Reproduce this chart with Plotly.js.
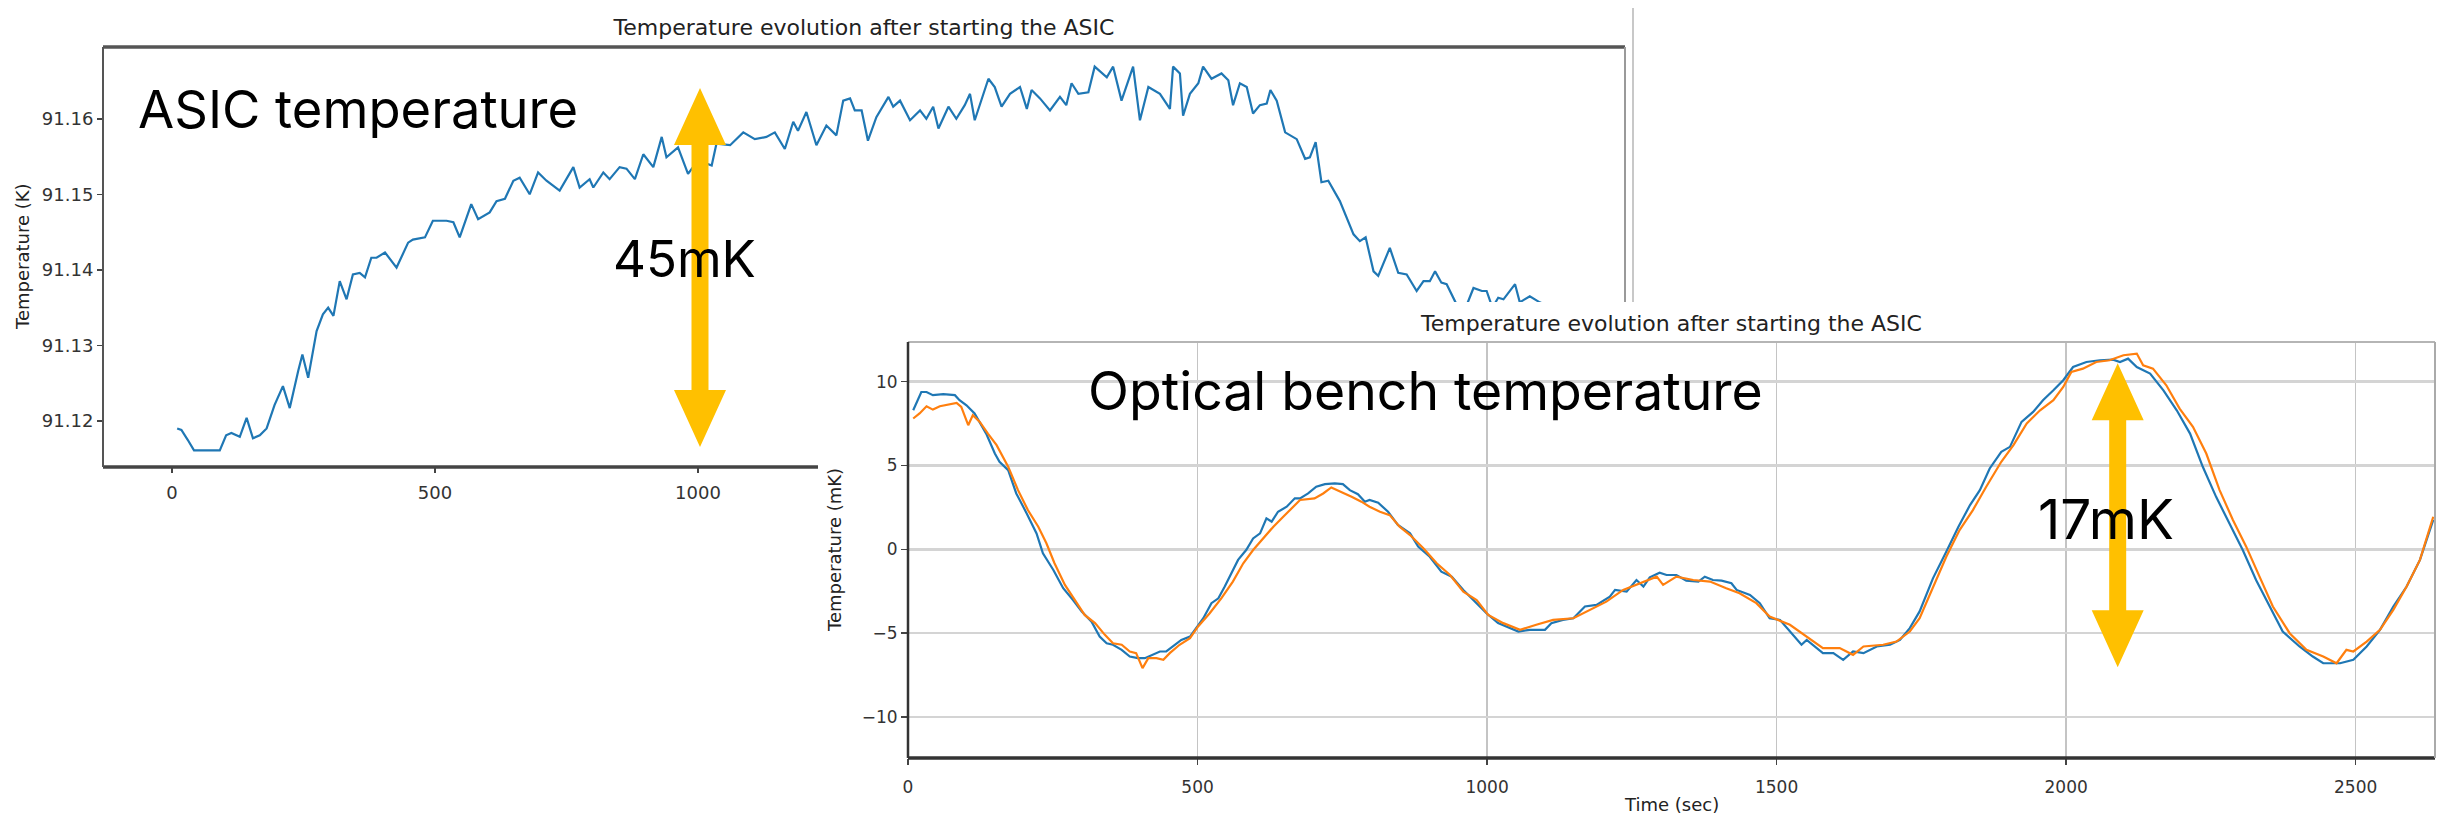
<!DOCTYPE html>
<html>
<head>
<meta charset="utf-8">
<script src="https://cdn.plot.ly/plotly-3.0.1.min.js"></script>
<style>
  html, body { margin: 0; padding: 0; background: #ffffff; }
  #wrap { position: relative; width: 2448px; height: 818px; overflow: hidden; background: #fff; }
  #asic { position: absolute; left: 0; top: 0; width: 2448px; height: 818px; }
  #bench { position: absolute; left: 818px; top: 302px; width: 1630px; height: 516px; }
</style>
</head>
<body>
<div id="wrap"><div id="asic"></div><div id="bench"></div></div>
<script>
// ---------------- DATA ----------------
const chartTitle = "Temperature evolution after starting the ASIC";

// ASIC temperature (K) vs time (s)
const asicTime = [10, 18, 30, 42, 60, 80, 91, 103, 113, 129, 142, 154, 167, 180, 195, 211, 224, 240, 248, 259, 275, 287, 297, 307, 319, 332, 344, 357, 367, 379, 389, 405, 427, 449, 458, 481, 496, 522, 535, 547, 569, 582, 604, 617, 633, 649, 661, 680, 696, 712, 737, 763, 775, 794, 801, 820, 832, 851, 864, 880, 896, 915, 931, 940, 962,
  981, 1000, 1026, 1035, 1061, 1086, 1108, 1130, 1146, 1165, 1181, 1190, 1206, 1225, 1244, 1263, 1276, 1289, 1298, 1311, 1323, 1339, 1362, 1371, 1384, 1403, 1422, 1434, 1447, 1457, 1476, 1491, 1507, 1517, 1526, 1552, 1564, 1577, 1593, 1612, 1625, 1634, 1650, 1669, 1688, 1700, 1710, 1723, 1742, 1754, 1777, 1789, 1805, 1827, 1840, 1856, 1878, 1897, 1903, 1916, 1922, 1935, 1951,
  1960, 1976, 1995, 2008, 2017, 2030, 2043, 2055, 2068, 2081, 2088, 2100, 2116, 2138, 2154, 2163, 2174, 2185, 2198, 2220, 2246, 2258, 2269, 2284, 2293, 2315, 2331, 2347, 2366, 2379, 2391, 2401, 2413, 2423, 2442, 2458, 2474, 2490, 2499, 2510, 2521, 2531, 2553, 2562, 2581, 2600, 2615, 2630];
const asicTemp = [91.1190, 91.1188, 91.1175, 91.1161, 91.1161, 91.1161, 91.1161, 91.1181, 91.1184, 91.1179, 91.1204, 91.1177, 91.1181, 91.1190, 91.1221, 91.1246, 91.1217, 91.1266, 91.1288, 91.1257, 91.1319, 91.1341, 91.1350, 91.1339, 91.1385, 91.1361, 91.1394, 91.1396, 91.1390, 91.1416, 91.1416, 91.1423, 91.1403, 91.1436, 91.1440, 91.1443, 91.1465, 91.1465, 91.1463, 91.1443, 91.1487, 91.1467, 91.1476, 91.1491, 91.1494, 91.1518, 91.1522, 91.1500, 91.1529, 91.1518, 91.1505, 91.1536, 91.1509, 91.1520, 91.1509, 91.1529, 91.1520, 91.1536, 91.1534, 91.1520, 91.1553, 91.1536, 91.1576, 91.1549, 91.1562,
  91.1527, 91.1545, 91.1538, 91.1567, 91.1565, 91.1582, 91.1573, 91.1576, 91.1582, 91.1560, 91.1596, 91.1584, 91.1609, 91.1565, 91.1591, 91.1578, 91.1624, 91.1627, 91.1611, 91.1611, 91.1571, 91.1602, 91.1629, 91.1616, 91.1624, 91.1598, 91.1611, 91.1600, 91.1616, 91.1587, 91.1616, 91.1600, 91.1618, 91.1633, 91.1598, 91.1653, 91.1642, 91.1616, 91.1633, 91.1642, 91.1613, 91.1638, 91.1627, 91.1611, 91.1629, 91.1618, 91.1647, 91.1633, 91.1635, 91.1669, 91.1655, 91.1669, 91.1624, 91.1669, 91.1598, 91.1642, 91.1633, 91.1613, 91.1669, 91.1660, 91.1604, 91.1633, 91.1647,
  91.1669, 91.1653, 91.1660, 91.1651, 91.1618, 91.1647, 91.1642, 91.1607, 91.1618, 91.1620, 91.1638, 91.1624, 91.1582, 91.1573, 91.1547, 91.1549, 91.1569, 91.1516, 91.1518, 91.1491, 91.1447, 91.1438, 91.1443, 91.1398, 91.1392, 91.1429, 91.1396, 91.1394, 91.1372, 91.1385, 91.1385, 91.1398, 91.1383, 91.1381, 91.1354, 91.1348, 91.1376, 91.1372, 91.1372, 91.1350, 91.1363, 91.1361, 91.1381, 91.1357, 91.1365, 91.1357, 91.1352, 91.1356];

// Optical bench temperature (mK), blue series
const benchTimeBlue = [9, 17, 23, 32, 43, 61, 81, 89, 101, 115, 135, 150, 158, 173, 187, 205, 222, 233, 251, 268, 285, 300, 317, 331, 343, 354, 369, 383, 397, 409, 423, 435, 446, 458, 472, 487, 495, 510, 524, 536, 547, 559, 570, 584, 596, 608, 619, 628, 639, 654, 668, 677, 691, 705, 720, 737, 751, 763, 777, 789, 797, 812, 829, 846, 867, 881,
  901, 921, 939, 959, 979, 999, 1019, 1039, 1054, 1074, 1100, 1111, 1131, 1149, 1169, 1189, 1212, 1221, 1241, 1258, 1270, 1281, 1298, 1310, 1327, 1344, 1365, 1376, 1390, 1405, 1422, 1431, 1454, 1471, 1488, 1506, 1523, 1543, 1552, 1580, 1598, 1615, 1632, 1650, 1673, 1696, 1713, 1730, 1747,
  1770, 1793, 1814, 1834, 1851, 1868, 1888, 1903, 1923, 1943, 1960, 1978, 1995, 2012, 2035, 2058, 2081, 2093, 2107, 2122, 2145, 2168, 2191, 2214, 2236, 2259, 2282, 2305, 2328, 2351, 2374, 2403, 2426, 2444, 2473, 2496, 2519, 2542, 2565, 2588, 2611, 2634];
const benchTempBlue = [8.29, 8.89, 9.38, 9.38, 9.19, 9.25, 9.19, 8.89, 8.59, 8.10, 6.90, 5.71, 5.22, 4.72, 3.33, 2.14, 0.95, -0.24, -1.23, -2.32, -3.02, -3.71, -4.31, -5.20, -5.60, -5.69, -5.99, -6.39, -6.49, -6.49, -6.29, -6.09, -6.09, -5.79, -5.40, -5.20, -4.80, -4.11, -3.21, -2.92, -2.22, -1.43, -0.63, -0.04, 0.65, 0.95, 1.85, 1.65, 2.24, 2.54, 3.04, 3.04, 3.33, 3.73, 3.89, 3.93, 3.89, 3.53, 3.29, 2.84, 2.94, 2.78, 2.24, 1.45, 0.95, 0.16,
  -0.44, -1.33, -1.63, -2.42, -3.12, -3.81, -4.40, -4.70, -4.90, -4.80, -4.80, -4.40, -4.21, -4.11, -3.41, -3.31, -2.82, -2.42, -2.52, -1.83, -2.22, -1.67, -1.39, -1.53, -1.53, -1.87, -1.92, -1.63, -1.83, -1.87, -2.02, -2.42, -2.72, -3.21, -4.11, -4.21, -4.90, -5.69, -5.40, -6.19, -6.19, -6.59, -6.09, -6.19, -5.79, -5.69, -5.40, -4.70, -3.70,
  -1.73, -0.14, 1.35, 2.64, 3.53, 4.82, 5.81, 6.11, 7.60, 8.19, 8.89, 9.48, 10.08, 10.87, 11.17, 11.27, 11.31, 11.17, 11.37, 10.87, 10.48, 9.48, 8.29, 6.90, 4.92, 3.13, 1.55, -0.04, -1.83, -3.41, -4.90, -5.79, -6.39, -6.79, -6.79, -6.59, -5.79, -4.80, -3.41, -2.22, -0.63, 1.75];

// Optical bench temperature (mK), orange series
const benchTimeOrange = [9, 20, 32, 43, 55, 66, 84, 92, 104, 112, 124, 138, 153, 173, 190, 207, 225, 239, 253, 271, 288, 305, 323, 340, 354, 369, 383, 394, 405, 415, 429, 441, 452, 469, 487, 501, 521, 541, 561, 579, 596, 613, 631, 648, 662, 677, 702, 717, 731, 746, 766, 783, 797, 815, 832, 849, 867,
  890, 913, 936, 959, 982, 1002, 1028, 1057, 1085, 1114, 1149, 1177, 1206, 1235, 1264, 1293, 1304, 1327, 1356, 1385, 1413, 1436, 1465, 1488, 1523, 1552, 1580, 1609, 1632, 1650, 1684, 1707, 1730, 1747,
  1770, 1793, 1816, 1839, 1862, 1888, 1909, 1932, 1955, 1978, 1995, 2009, 2029, 2052, 2075, 2099, 2122, 2133, 2150, 2173, 2196, 2219, 2242, 2265, 2288, 2311, 2334, 2357, 2386, 2415, 2444, 2467, 2484, 2496, 2519, 2542, 2565, 2588, 2611, 2634];
const benchTempOrange = [7.80, 8.10, 8.53, 8.33, 8.53, 8.59, 8.73, 8.49, 7.40, 8.00, 7.60, 6.90, 6.21, 4.92, 3.53, 2.34, 1.35, 0.36, -0.83, -2.12, -3.02, -3.91, -4.40, -5.10, -5.60, -5.69, -6.09, -6.19, -7.08, -6.49, -6.49, -6.59, -6.19, -5.69, -5.30, -4.60, -3.81, -2.92, -1.92, -0.83, -0.04, 0.65, 1.35, 1.94, 2.44, 2.94, 3.04, 3.33, 3.69, 3.43, 3.13, 2.84, 2.54, 2.24, 2.04, 1.35, 0.85,
  0.06, -0.83, -1.53, -2.52, -3.02, -3.91, -4.40, -4.80, -4.50, -4.21, -4.11, -3.61, -3.12, -2.42, -2.02, -1.63, -2.12, -1.63, -1.83, -1.92, -2.32, -2.62, -3.21, -4.01, -4.50, -5.20, -5.89, -5.89, -6.29, -5.79, -5.69, -5.50, -4.90, -4.11,
  -2.22, -0.44, 1.15, 2.34, 3.73, 5.22, 6.21, 7.50, 8.29, 8.89, 9.68, 10.58, 10.77, 11.17, 11.27, 11.57, 11.67, 10.97, 10.77, 9.78, 8.39, 7.30, 5.71, 3.53, 1.75, 0.16, -1.63, -3.41, -5.00, -5.99, -6.39, -6.79, -5.99, -6.09, -5.50, -4.80, -3.61, -2.22, -0.63, 1.94];

const asicXTicks = [0, 500, 1000, 1500, 2000, 2500];
const asicYTicks = [91.12, 91.13, 91.14, 91.15, 91.16];
const benchXTicks = [0, 500, 1000, 1500, 2000, 2500];
const benchYTicks = [-10, -5, 0, 5, 10];

// ---------------- STYLE ----------------
const TICKFONT = {family: "DejaVu Sans", size: 18, color: "#333"};
const TITLEFONT = {family: "DejaVu Sans", size: 22, color: "#222"};
const LABELFONT = {family: "DejaVu Sans", size: 18, color: "#222"};
const BIGFAMILY = "Inter, 'Noto Sans', sans-serif";
const big = (s) => ({family: BIGFAMILY, size: s, color: "#000"});
const ARROW = "#FFC000";

function makeConv(W, H, m) {
  const w = W - m.l - m.r, h = H - m.t - m.b;
  return (X, Y) => [(X - m.l) / w, 1 - (Y - m.t) / h];
}
function arrowPath(conv, c, yt, yb, hl, hw, sw) {
  const pts = [[c, yt], [c + hw, yt + hl], [c + sw, yt + hl], [c + sw, yb - hl], [c + hw, yb - hl], [c, yb],
               [c - hw, yb - hl], [c - sw, yb - hl], [c - sw, yt + hl], [c - hw, yt + hl]];
  return pts.map((p, i) => { const q = conv(p[0], p[1]); return (i ? "L" : "M") + q[0].toFixed(5) + "," + q[1].toFixed(5); }).join(" ") + " Z";
}
function border(x0, y0, x1, y1, color, width) {
  return {type: "line", xref: "paper", yref: "paper", x0, y0, x1, y1, layer: "above", line: {color, width}};
}

// ---------------- CHART 1: ASIC ----------------
const m1 = {l: 103, r: 823, t: 47, b: 351};
const c1 = makeConv(2448, 818, m1);
const edgeA = c1(1633, 8), edgeB = c1(1633, 302);
const layout1 = {
  width: 2448, height: 818, margin: m1,
  paper_bgcolor: "#fff", plot_bgcolor: "#fff", showlegend: false,
  title: {text: chartTitle, font: TITLEFONT, x: 0.5, xref: "paper", xanchor: "center", y: 1 - 27 / 818, yref: "container", yanchor: "middle"},
  xaxis: {range: [-131, 2762], tickvals: asicXTicks, ticks: "outside", ticklen: 5, tickwidth: 1.5, tickcolor: "#444",
          showgrid: false, zeroline: false, showline: false, tickfont: TICKFONT, ticklabelstandoff: 4},
  yaxis: {range: [91.1139, 91.1695], tickvals: asicYTicks, tickformat: ".2f", ticks: "outside", ticklen: 5, tickwidth: 1.5, tickcolor: "#444",
          showgrid: false, zeroline: false, showline: false, tickfont: TICKFONT},
  shapes: [
    border(0, 1, 1, 1, "#555", 3.5),
    border(0, 0, 1, 0, "#444", 3.5),
    border(0, 0, 0, 1, "#555", 2),
    border(1, 0, 1, 1, "#9a9a9a", 2),
    {type: "line", xref: "paper", yref: "paper", x0: edgeA[0], y0: edgeA[1], x1: edgeB[0], y1: edgeB[1], layer: "above", line: {color: "#c8c8c8", width: 2}},
    {type: "path", xref: "paper", yref: "paper", layer: "above", path: arrowPath(c1, 700, 88, 447, 57, 26, 8.5), fillcolor: ARROW, line: {width: 0}}
  ],
  annotations: [
    {text: "Temperature (K)", xref: "paper", yref: "paper", x: 0, y: 0.5, xshift: -81, textangle: -90, showarrow: false, font: LABELFONT, xanchor: "center", yanchor: "middle"},
    {text: "ASIC temperature", xref: "paper", yref: "paper", x: c1(358, 0)[0], y: c1(0, 109)[1], showarrow: false, font: big(52.5), xanchor: "center", yanchor: "middle"},
    {text: "45mK", xref: "paper", yref: "paper", x: c1(684, 0)[0], y: c1(0, 258)[1], showarrow: false, font: big(51), xanchor: "center", yanchor: "middle"}
  ]
};
Plotly.newPlot("asic", [{x: asicTime, y: asicTemp, type: "scatter", mode: "lines", line: {color: "#1f77b4", width: 2.2}}], layout1, {displayModeBar: false, staticPlot: true});

// ---------------- CHART 2: Optical bench ----------------
const m2 = {l: 90, r: 13, t: 40, b: 60};
const c2 = makeConv(1630, 516, m2);
const OX = 818, OY = 302; // offset of this panel
const layout2 = {
  width: 1630, height: 516, margin: m2,
  paper_bgcolor: "#fff", plot_bgcolor: "#fff", showlegend: false,
  title: {text: chartTitle, font: TITLEFONT, x: 0.5, xref: "paper", xanchor: "center", y: 1 - 21 / 516, yref: "container", yanchor: "middle"},
  xaxis: {range: [0, 2637], tickvals: benchXTicks, ticks: "outside", ticklen: 6, tickwidth: 1.5, tickcolor: "#444",
          showgrid: true, gridcolor: "#c4c4c4", gridwidth: 1.5, zeroline: false, showline: false, tickfont: {family: "DejaVu Sans", size: 17, color: "#333"}, ticklabelstandoff: 8},
  yaxis: {range: [-12.44, 12.36], tickvals: benchYTicks, ticktext: ["\u221210", "\u22125", "0", "5", "10"], ticks: "outside", ticklen: 6, tickwidth: 1.5, tickcolor: "#444",
          showgrid: true, gridcolor: "#d4d4d4", gridwidth: 2.5, zeroline: false, showline: false, tickfont: {family: "DejaVu Sans", size: 17, color: "#333"}},
  shapes: [
    border(0, 1, 1, 1, "#b5b5b5", 2),
    border(0, 0, 1, 0, "#333", 3.5),
    border(0, 0, 0, 1, "#333", 2.5),
    border(1, 0, 1, 1, "#aaaaaa", 2),
    {type: "path", xref: "paper", yref: "paper", layer: "above", path: arrowPath(c2, 2117.7 - OX, 363.3 - OY, 667.3 - OY, 57, 26, 8.5), fillcolor: ARROW, line: {width: 0}}
  ],
  annotations: [
    {text: "Temperature (mK)", xref: "paper", yref: "paper", x: 0, y: 0.5, xshift: -74, textangle: -90, showarrow: false, font: LABELFONT, xanchor: "center", yanchor: "middle"},
    {text: "Time (sec)", xref: "paper", yref: "paper", x: 0.5, y: 0, yshift: -46, showarrow: false, font: {family: "DejaVu Sans", size: 18, color: "#222"}, xanchor: "center", yanchor: "middle"},
    {text: "Optical bench temperature", xref: "paper", yref: "paper", x: c2(1425 - OX, 0)[0], y: c2(0, 390 - OY)[1], showarrow: false, font: big(53.5), xanchor: "center", yanchor: "middle"},
    {text: "17mK", xref: "paper", yref: "paper", x: c2(2106 - OX, 0)[0], y: c2(0, 519 - OY)[1], showarrow: false, font: big(55), xanchor: "center", yanchor: "middle"}
  ]
};
Plotly.newPlot("bench", [
  {x: benchTimeBlue, y: benchTempBlue, type: "scatter", mode: "lines", line: {color: "#1f77b4", width: 2.2}},
  {x: benchTimeOrange, y: benchTempOrange, type: "scatter", mode: "lines", line: {color: "#ff7f0e", width: 2.2}}
], layout2, {displayModeBar: false, staticPlot: true});
</script>
</body>
</html>
